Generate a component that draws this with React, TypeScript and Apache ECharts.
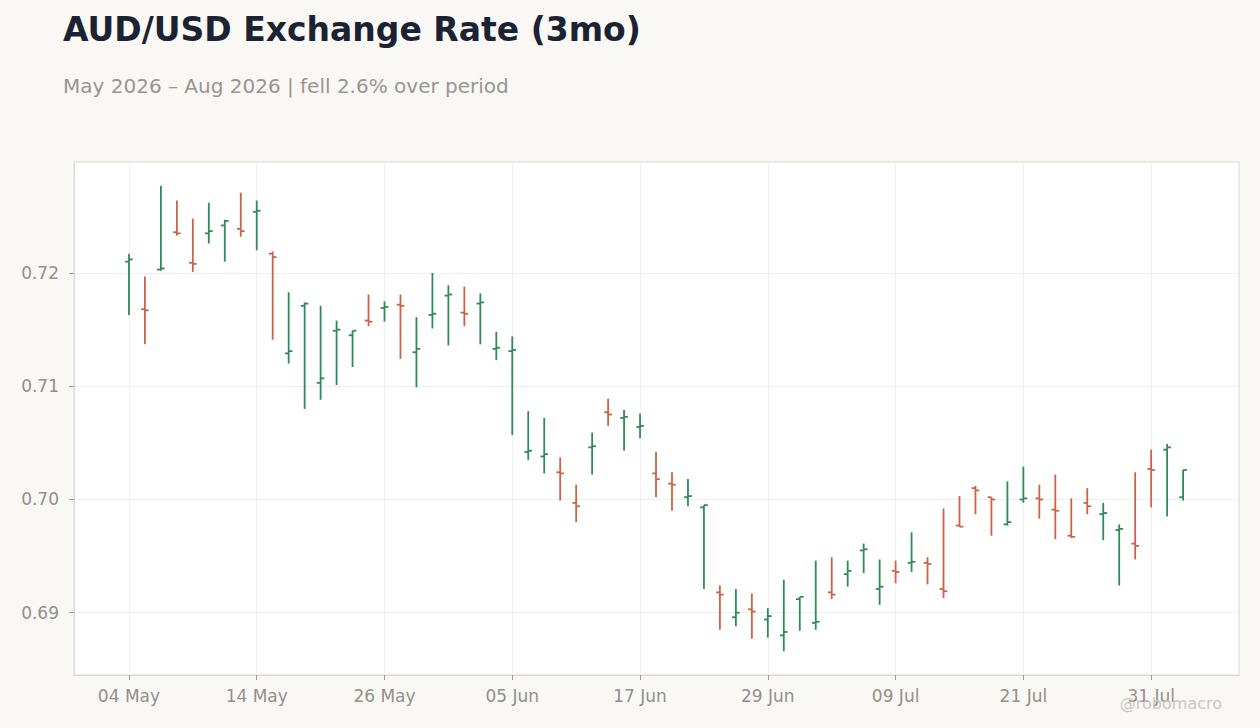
import React, { useEffect, useRef } from "react";
import * as echarts from "echarts";

const dates = [
  "2026-05-04", "2026-05-05", "2026-05-06", "2026-05-07", "2026-05-08",
  "2026-05-11", "2026-05-12", "2026-05-13", "2026-05-14", "2026-05-15",
  "2026-05-18", "2026-05-19", "2026-05-20", "2026-05-21", "2026-05-22",
  "2026-05-25", "2026-05-26", "2026-05-27", "2026-05-28", "2026-05-29",
  "2026-06-01", "2026-06-02", "2026-06-03", "2026-06-04", "2026-06-05",
  "2026-06-08", "2026-06-09", "2026-06-10", "2026-06-11", "2026-06-12",
  "2026-06-15", "2026-06-16", "2026-06-17", "2026-06-18", "2026-06-19",
  "2026-06-22", "2026-06-23", "2026-06-24", "2026-06-25", "2026-06-26",
  "2026-06-29", "2026-06-30", "2026-07-01", "2026-07-02", "2026-07-03",
  "2026-07-06", "2026-07-07", "2026-07-08", "2026-07-09", "2026-07-10",
  "2026-07-13", "2026-07-14", "2026-07-15", "2026-07-16", "2026-07-17",
  "2026-07-20", "2026-07-21", "2026-07-22", "2026-07-23", "2026-07-24",
  "2026-07-27", "2026-07-28", "2026-07-29", "2026-07-30", "2026-07-31",
  "2026-08-03", "2026-08-04",
];

const opens = [
  0.7210, 0.7168, 0.7203, 0.7236, 0.7209, 0.7235, 0.7242, 0.7239, 0.7254, 0.7217,
  0.7129, 0.7171, 0.7103, 0.7149, 0.7145, 0.7158, 0.7169, 0.7172, 0.7130, 0.7163,
  0.7180, 0.7165, 0.7173, 0.7133, 0.7131, 0.7042, 0.7038, 0.7024, 0.6997, 0.7046,
  0.7077, 0.7072, 0.7064, 0.7023, 0.7014, 0.7002, 0.6993, 0.6918, 0.6896, 0.6903,
  0.6894, 0.6880, 0.6912, 0.6891, 0.6918, 0.6934, 0.6955, 0.6921, 0.6937, 0.6944,
  0.6944, 0.6921, 0.6977, 0.7010, 0.7002, 0.6978, 0.7000, 0.7001, 0.6991, 0.6968,
  0.6997, 0.6987, 0.6973, 0.6961, 0.7027, 0.7044, 0.7002,
];
const highs = [
  0.7217, 0.7197, 0.7277, 0.7264, 0.7248, 0.7262, 0.7247, 0.7271, 0.7264, 0.7219,
  0.7183, 0.7174, 0.7171, 0.7158, 0.7149, 0.7181, 0.7175, 0.7181, 0.7161, 0.7200,
  0.7189, 0.7188, 0.7182, 0.7148, 0.7144, 0.7078, 0.7072, 0.7037, 0.7013, 0.7059,
  0.7089, 0.7079, 0.7076, 0.7042, 0.7024, 0.7018, 0.6995, 0.6924, 0.6921, 0.6917,
  0.6904, 0.6929, 0.6914, 0.6946, 0.6949, 0.6946, 0.6961, 0.6947, 0.6946, 0.6971,
  0.6949, 0.6992, 0.7003, 0.7012, 0.7002, 0.7016, 0.7029, 0.7013, 0.7022, 0.7001,
  0.7010, 0.6997, 0.6978, 0.7024, 0.7044, 0.7049, 0.7026,
];
const lows = [
  0.7163, 0.7137, 0.7202, 0.7233, 0.7201, 0.7226, 0.7210, 0.7232, 0.7220, 0.7141,
  0.7120, 0.7080, 0.7088, 0.7101, 0.7117, 0.7153, 0.7157, 0.7124, 0.7099, 0.7151,
  0.7136, 0.7153, 0.7137, 0.7123, 0.7057, 0.7035, 0.7023, 0.6999, 0.6980, 0.7022,
  0.7065, 0.7043, 0.7054, 0.7002, 0.6990, 0.6994, 0.6921, 0.6885, 0.6888, 0.6877,
  0.6878, 0.6866, 0.6884, 0.6885, 0.6912, 0.6923, 0.6935, 0.6907, 0.6926, 0.6936,
  0.6925, 0.6913, 0.6976, 0.6987, 0.6968, 0.6977, 0.6997, 0.6983, 0.6965, 0.6966,
  0.6987, 0.6964, 0.6924, 0.6947, 0.6993, 0.6985, 0.6999,
];
const closes = [
  0.7212, 0.7167, 0.7204, 0.7235, 0.7208, 0.7237, 0.7246, 0.7237, 0.7255, 0.7214,
  0.7131, 0.7173, 0.7107, 0.7150, 0.7149, 0.7157, 0.7170, 0.7171, 0.7133, 0.7164,
  0.7181, 0.7164, 0.7174, 0.7134, 0.7132, 0.7043, 0.7040, 0.7023, 0.6994, 0.7047,
  0.7075, 0.7073, 0.7065, 0.7018, 0.7013, 0.7003, 0.6995, 0.6916, 0.6900, 0.6901,
  0.6897, 0.6883, 0.6914, 0.6892, 0.6916, 0.6937, 0.6956, 0.6923, 0.6936, 0.6945,
  0.6943, 0.6919, 0.6976, 0.7008, 0.7000, 0.6980, 0.7001, 0.7000, 0.6990, 0.6967,
  0.6994, 0.6988, 0.6974, 0.6959, 0.7026, 0.7046, 0.7026,
];

const xTickIndices = [0, 8, 16, 24, 32, 40, 48, 56, 64];
const yTickValues = [0.69, 0.7, 0.71, 0.72];
const MONTHS = ["Jan", "Feb", "Mar", "Apr", "May", "Jun", "Jul", "Aug", "Sep", "Oct", "Nov", "Dec"];

const TITLE = "AUD/USD Exchange Rate (3mo)";
const SUBTITLE = "May 2026 \u2013 Aug 2026 | fell 2.6% over period";
const WATERMARK = "@robomacro";

const GREEN = "#2e8b57";
const RED = "#cc6244";
const FONT = "DejaVu Sans";
const BORDER = "#ddd8d0";

function fmtDate(d: string): string {
  const parts = d.split("-");
  return parts[2] + " " + MONTHS[parseInt(parts[1], 10) - 1];
}

export default function App() {
  const ref = useRef<HTMLDivElement>(null);
  useEffect(() => {
    if (!ref.current) return;
    const chart = echarts.init(ref.current, null, { renderer: "svg" });
    const data = dates.map((_, i) => [i, opens[i], highs[i], lows[i], closes[i]]);
    chart.setOption({
      animation: false,
      backgroundColor: "#f9f8f5",
      title: [
        {
          text: TITLE,
          left: 63,
          top: 13,
          padding: 0,
          textStyle: { fontFamily: FONT, fontSize: 33, fontWeight: "bold", color: "#1b2333" },
        },
        {
          text: SUBTITLE,
          left: 63,
          top: 76,
          padding: 0,
          textStyle: { fontFamily: FONT, fontSize: 20, fontWeight: "normal", color: "#9a9590" },
        },
      ],
      graphic: [
        {
          type: "text",
          right: 38,
          top: 695,
          style: { text: WATERMARK, fontFamily: FONT, fontSize: 16, fill: "#cbc7c1" },
          z: 100,
        },
      ],
      grid: {
        left: 74,
        right: 21,
        top: 162,
        bottom: 53,
        show: true,
        backgroundColor: "#ffffff",
        borderColor: BORDER,
        borderWidth: 1,
      },
      xAxis: {
        type: "value",
        min: -3.44,
        max: 69.5,
        axisLine: { show: true, onZero: false, lineStyle: { color: BORDER, width: 1 } },
        axisTick: {
          show: true,
          length: 5,
          customValues: xTickIndices,
          lineStyle: { color: "#a09b95", width: 1 },
        },
        axisLabel: {
          customValues: xTickIndices,
          margin: 12,
          fontFamily: FONT,
          fontSize: 17,
          color: "#948f8a",
          formatter: (v: number) => (dates[Math.round(v)] ? fmtDate(dates[Math.round(v)]) : ""),
        },
        splitLine: { show: true, lineStyle: { color: "#efefef", width: 1 } },
      },
      yAxis: {
        type: "value",
        min: 0.6845,
        max: 0.7298,
        axisLine: { show: true, onZero: false, lineStyle: { color: BORDER, width: 1 } },
        axisTick: {
          show: true,
          length: 5,
          customValues: yTickValues,
          lineStyle: { color: "#a09b95", width: 1 },
        },
        axisLabel: {
          customValues: yTickValues,
          margin: 15,
          fontFamily: FONT,
          fontSize: 17,
          color: "#948f8a",
          formatter: (v: number) => v.toFixed(2),
        },
        splitLine: { show: true, lineStyle: { color: "#efefef", width: 1 } },
      },
      series: [
        {
          type: "custom",
          data,
          encode: { x: 0, y: [1, 2, 3, 4] },
          clip: true,
          renderItem: (params: any, api: any) => {
            const x = api.value(0);
            const o = api.value(1);
            const h = api.value(2);
            const l = api.value(3);
            const c = api.value(4);
            const pH = api.coord([x, h]);
            const pL = api.coord([x, l]);
            const pO = api.coord([x, o]);
            const pC = api.coord([x, c]);
            const color = c >= o ? GREEN : RED;
            const st = { stroke: color, lineWidth: 1.8 };
            return {
              type: "group",
              children: [
                { type: "line", shape: { x1: pH[0], y1: pH[1], x2: pL[0], y2: pL[1] }, style: st },
                { type: "line", shape: { x1: pO[0] - 3.8, y1: pO[1], x2: pO[0], y2: pO[1] }, style: st },
                { type: "line", shape: { x1: pC[0], y1: pC[1], x2: pC[0] + 3.8, y2: pC[1] }, style: st },
              ],
            };
          },
        },
      ],
    });
    return () => chart.dispose();
  }, []);
  return (
    <div
      ref={ref}
      style={{ position: "fixed", left: 0, top: 0, width: 1260, height: 728 }}
    />
  );
}
